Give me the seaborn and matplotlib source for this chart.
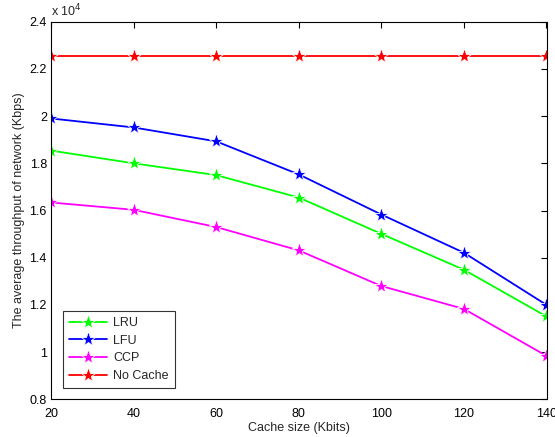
import matplotlib
matplotlib.use("Agg")
import matplotlib.pyplot as plt
import seaborn as sns
import pandas as pd
from matplotlib.ticker import FuncFormatter

cache_size = [20, 40, 60, 80, 100, 120, 140]
lru = [18540, 18000, 17500, 16550, 15010, 13490, 11510]
lfu = [19900, 19520, 18930, 17530, 15830, 14210, 12000]
ccp = [16340, 16030, 15300, 14310, 12800, 11830, 9840]
no_cache = [22550, 22550, 22550, 22550, 22550, 22550, 22550]

names = ["LRU", "LFU", "CCP", "No Cache"]
colors = ["#00ff00", "#0000ff", "#ff00ff", "#ff0000"]

rows = []
for name, vals in zip(names, [lru, lfu, ccp, no_cache]):
    for x, v in zip(cache_size, vals):
        rows.append({"Cache size": x, "throughput": v, "method": name})
df = pd.DataFrame(rows)

sns.set_style("white")
plt.rcParams["font.family"] = ["Liberation Sans", "DejaVu Sans"]
plt.rcParams["font.size"] = 9

W, H = 555, 437
fig = plt.figure(figsize=(W / 100, H / 100), dpi=100)
left, right, top, bottom = 51, 546.5, 21.7, 399.3
ax = fig.add_axes([left / W, 1 - bottom / H, (right - left) / W, (bottom - top) / H])

sns.lineplot(data=df, x="Cache size", y="throughput", hue="method",
             hue_order=names, palette=colors, marker="*", markersize=11,
             markeredgewidth=0.6, linewidth=1.3, ax=ax)

ax.set_xlim(20, 140)
ax.set_ylim(8000, 24000)
ax.set_xticks(cache_size)
ax.set_yticks([8000, 10000, 12000, 14000, 16000, 18000, 20000, 22000, 24000])
ax.yaxis.set_major_formatter(FuncFormatter(lambda v, p: "%g" % (v / 1e4)))
ax.tick_params(direction="in", top=True, right=True, length=4, width=0.8,
               labelsize=9, colors="black", pad=3)
ax.tick_params(axis="x", pad=6.5)
for s in ax.spines.values():
    s.set_color("black")
    s.set_linewidth(0.8)

ax.set_xlabel("Cache size (Kbits)", fontsize=9, labelpad=1.5)
ax.set_ylabel("The average throughput of network (Kbps)", fontsize=9, labelpad=3)
ax.text(0.001, 1.006, r"x 10$^{4}$", transform=ax.transAxes, fontsize=9,
        ha="left", va="bottom")

leg = ax.legend(loc="lower left", frameon=True, fancybox=False, fontsize=9,
                bbox_to_anchor=(12 / (right - left), 11 / (bottom - top)),
                borderaxespad=0, handlelength=3, handletextpad=0.5,
                labelspacing=0.45, borderpad=0.5)
leg.get_frame().set_edgecolor("black")
leg.get_frame().set_linewidth(0.8)

fig.savefig("out.png", dpi=100)
